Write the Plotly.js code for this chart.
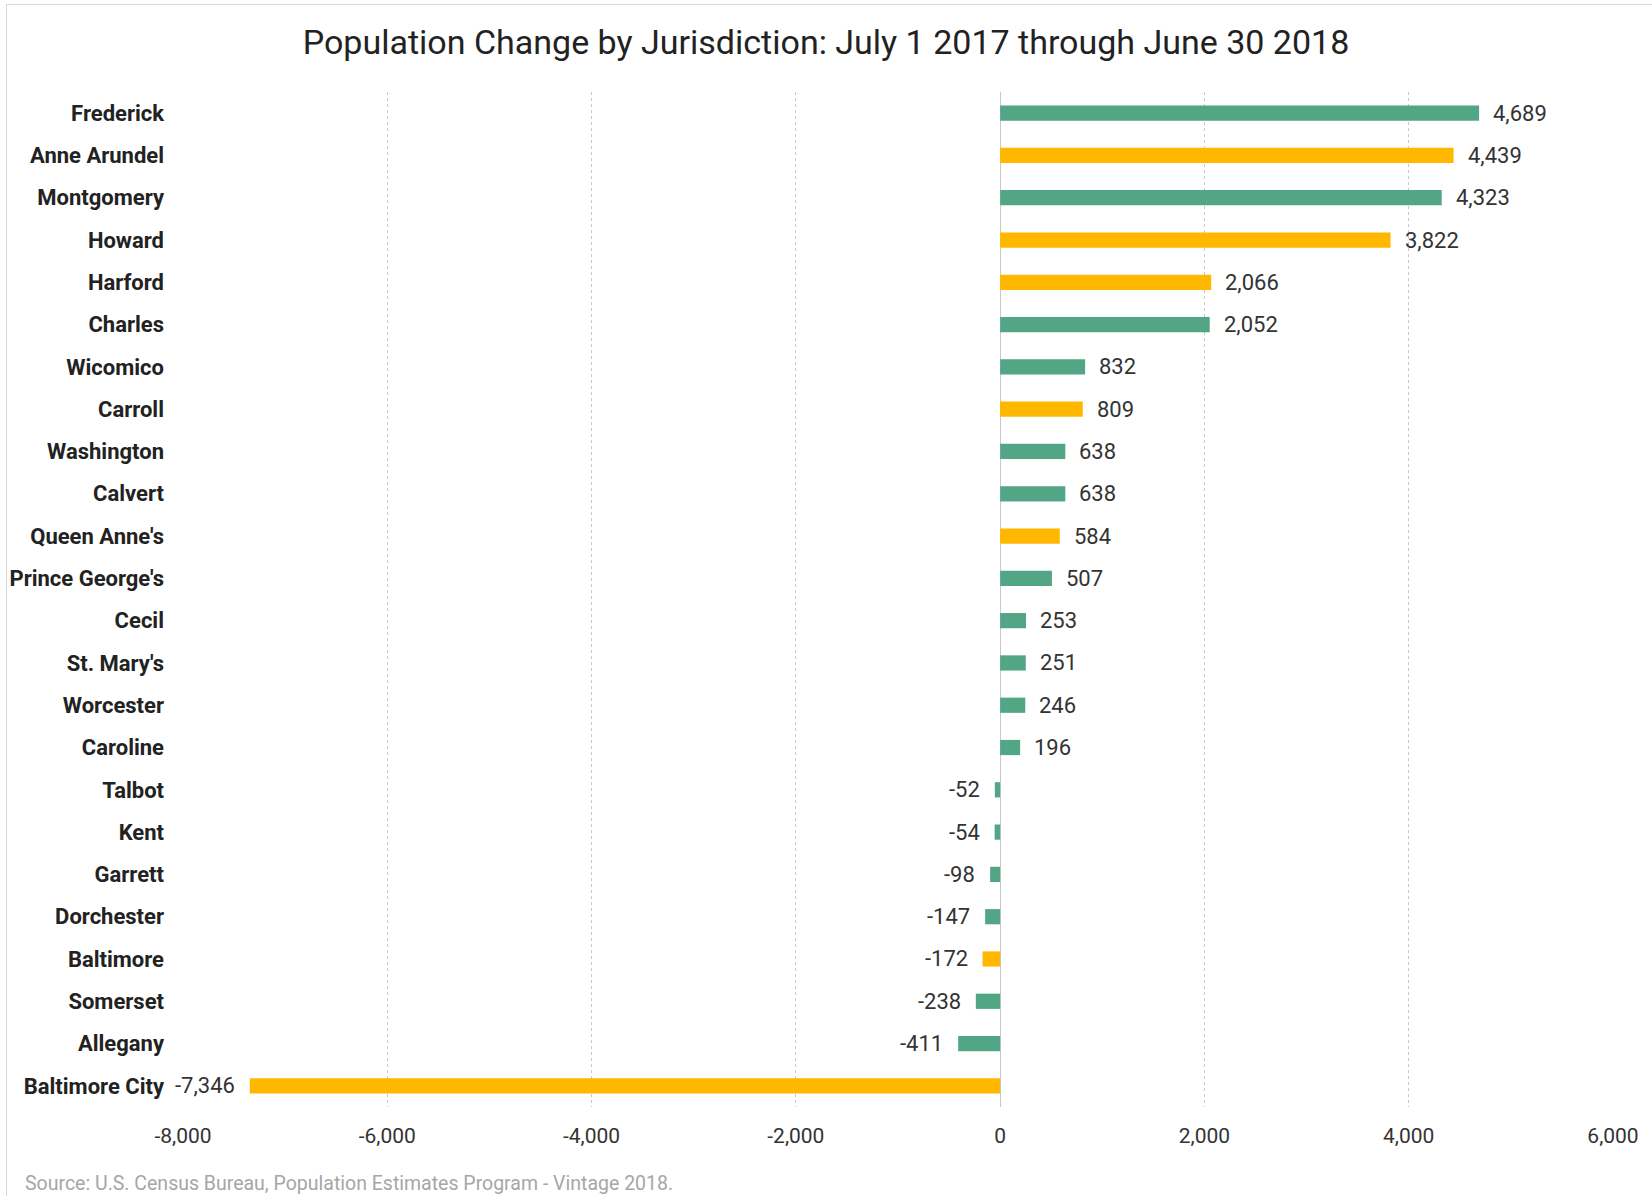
<!DOCTYPE html>
<html>
<head>
<meta charset="utf-8">
<script src="https://cdn.plot.ly/plotly-3.0.1.min.js"></script>
<style>
  html, body { margin: 0; padding: 0; background: #fff; }
  #chart { position: absolute; left: 0; top: 0; width: 1652px; height: 1196px; }
  #frame { position: absolute; left: 6px; top: 4px; width: 1646px; height: 1192px;
           border-left: 1px solid #d9d9d9; border-top: 1px solid #d9d9d9; box-sizing: border-box; pointer-events: none; }
</style>
</head>
<body>
<div id="chart"></div>
<div id="frame"></div>
<script>
// ---- Data (top to bottom as displayed) ----
const jurisdictions = [
  "Frederick", "Anne Arundel", "Montgomery", "Howard", "Harford", "Charles",
  "Wicomico", "Carroll", "Washington", "Calvert", "Queen Anne's", "Prince George's",
  "Cecil", "St. Mary's", "Worcester", "Caroline", "Talbot", "Kent",
  "Garrett", "Dorchester", "Baltimore", "Somerset", "Allegany", "Baltimore City"
];
const populationChange = [
  4689, 4439, 4323, 3822, 2066, 2052,
  832, 809, 638, 638, 584, 507,
  253, 251, 246, 196, -52, -54,
  -98, -147, -172, -238, -411, -7346
];
// Baltimore metropolitan region jurisdictions are highlighted in the reference
const baltimoreRegion = [
  false, true, false, true, true, false,
  false, true, false, false, true, false,
  false, false, false, false, false, false,
  false, false, true, false, false, true
];
const xTickValues = [-8000, -6000, -4000, -2000, 0, 2000, 4000, 6000];
const xTickLabels = ["-8,000", "-6,000", "-4,000", "-2,000", "0", "2,000", "4,000", "6,000"];
const chartTitle = "Population Change by Jurisdiction: July 1 2017 through June 30 2018";
const sourceNote = "Source: U.S. Census Bureau, Population Estimates Program - Vintage 2018.";

// ---- Styling ----
const GREEN = "#52a685";
const YELLOW = "#ffb700";
const colors = baltimoreRegion.map(b => b ? YELLOW : GREEN);

const trace = {
  type: "bar",
  orientation: "h",
  x: populationChange,
  y: jurisdictions,
  marker: { color: colors, line: { width: 0 } },
  hoverinfo: "x+y"
};

const fmt = v => (v < 0 ? "-" : "") + Math.abs(v).toLocaleString("en-US");
const annotations = populationChange.map((v, i) => ({
  x: v,
  y: jurisdictions[i],
  xref: "x",
  yref: "y",
  text: fmt(v),
  showarrow: false,
  xanchor: v >= 0 ? "left" : "right",
  xshift: v >= 0 ? 12 : -13,
  yanchor: "middle",
  font: { family: "Roboto, sans-serif", size: 22, color: "#333" }
}));

annotations.push({
  xref: "paper", yref: "paper",
  x: -160 / 1430, y: -76 / 1015,
  xanchor: "left", yanchor: "middle",
  text: sourceNote,
  showarrow: false,
  font: { family: "Roboto, sans-serif", size: 19.5, color: "#a6a6a6" }
});

const layout = {
  width: 1652,
  height: 1196,
  margin: { l: 183, r: 39, t: 92, b: 89, pad: 0 },
  paper_bgcolor: "#ffffff",
  plot_bgcolor: "#ffffff",
  showlegend: false,
  bargap: 0.64,
  title: {
    text: chartTitle,
    xref: "container", x: 0.5, xanchor: "center",
    yref: "container", y: 1 - 42 / 1196, yanchor: "middle",
    font: { family: "Roboto, sans-serif", size: 34, color: "#222" }
  },
  xaxis: {
    range: [-8000, 6000],
    tickvals: xTickValues,
    ticktext: xTickLabels,
    showgrid: true,
    gridcolor: "#c8c8c8",
    griddash: "dot",
    gridwidth: 1,
    zeroline: true,
    zerolinecolor: "#c8c8c8",
    zerolinewidth: 1,
    showline: false,
    ticks: "",
    ticklabelstandoff: 14,
    tickfont: { family: "Roboto, sans-serif", size: 21, color: "#333" },
    fixedrange: true
  },
  yaxis: {
    categoryorder: "array",
    categoryarray: jurisdictions,
    autorange: "reversed",
    showgrid: false,
    zeroline: false,
    showline: false,
    ticks: "",
    ticklabelstandoff: 18,
    tickfont: { family: "Roboto, sans-serif", size: 22, color: "#222", weight: "bold" },
    fixedrange: true
  },
  annotations: annotations
};

Plotly.newPlot("chart", [trace], layout, { displayModeBar: false, staticPlot: true });
</script>
</body>
</html>
